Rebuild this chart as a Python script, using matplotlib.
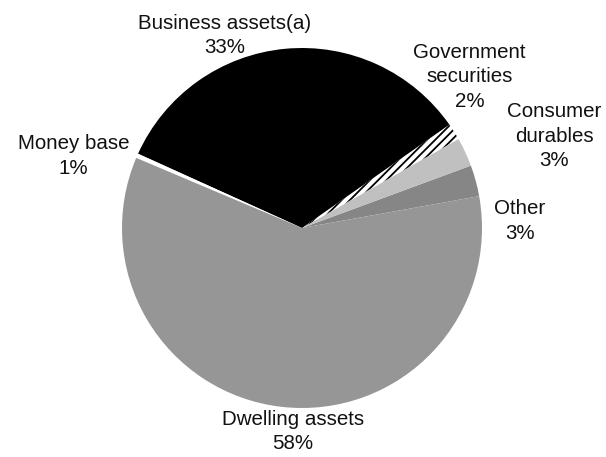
import matplotlib
matplotlib.use('Agg')
import matplotlib.pyplot as plt

# slices counter-clockwise from the right-hand edge
labels = ['Other', 'Consumer\ndurables', 'Government\nsecurities',
          'Business assets(a)', 'Money base', 'Dwelling assets']
pct_text = ['3%', '3%', '2%', '33%', '1%', '58%']
shares = [2.8, 2.6, 1.5, 33.5, 0.4, 59.2]
colors = ['#868686', '#c0c0c0', 'white', 'black', 'white', '#969696']
hatches = [None, None, '////', None, None, None]

# label centres in pie-radius units
label_x = [1.21, 1.40, 0.93, -0.43, -1.27, -0.05]
label_y = [0.04, 0.51, 0.84, 1.07, 0.40, -1.13]

plt.rcParams['font.family'] = ['Liberation Sans', 'DejaVu Sans']
plt.rcParams['hatch.linewidth'] = 1.3

fig = plt.figure(figsize=(6.06, 4.57), dpi=100)
ax = fig.add_axes([0, 0, 1, 1])

wedges, _ = ax.pie(shares, colors=colors, startangle=10.2, counterclock=True,
                   radius=1.0, wedgeprops=dict(linewidth=0))
for w, h in zip(wedges, hatches):
    if h:
        w.set_hatch(h)
        w.set_edgecolor('black')
        w.set_linewidth(0)

for lab, pct, x, y in zip(labels, pct_text, label_x, label_y):
    ax.text(x, y, lab + '\n' + pct, ha='center', va='center', fontsize=14.8,
            linespacing=1.38, color='#111111')

r = 180.0
ax.set_xlim(-302 / r, (606 - 302) / r)
ax.set_ylim(-(457 - 228) / r, 228 / r)
ax.set_aspect('equal')
ax.axis('off')

fig.savefig('out.png', dpi=100)
plt.close(fig)
